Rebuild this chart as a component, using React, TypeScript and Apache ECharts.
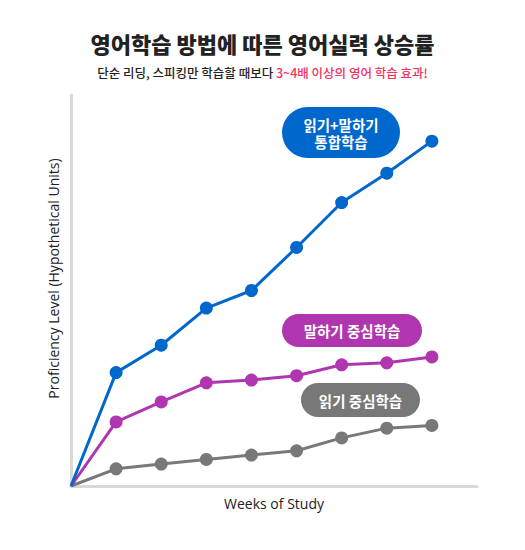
import React, { useEffect, useRef } from "react";
import * as echarts from "echarts";

const weeks = [0, 1, 2, 3, 4, 5, 6, 7, 8];
const integrated = [0, 29, 36, 45.5, 50, 61, 72.5, 80, 88.2];
const speaking = [0, 16.4, 21.5, 26.4, 27.1, 28.2, 31, 31.5, 33];
const reading = [0, 4.4, 5.6, 6.8, 7.9, 9, 12.3, 14.8, 15.5];

const titleText = "영어학습 방법에 따른 영어실력 상승률";
const subPlain = "단순 리딩, 스피킹만 학습할 때보다 ";
const subAccent = "3~4배 이상의 영어 학습 효과!";
const xName = "Weeks of Study";
const yName = "Proficiency Level (Hypothetical Units)";
const labelIntegratedTop = "읽기+말하기";
const labelIntegratedBottom = "통합학습";
const labelSpeaking = "말하기 중심학습";
const labelReading = "읽기 중심학습";

const BLUE = "#0068cc";
const PURPLE = "#b036b0";
const GRAY = "#787878";
const KR = "'Noto Sans CJK KR', 'Noto Sans', sans-serif";

function pts(vals: number[]) {
  return weeks.map((w, i) => [w, vals[i]]);
}

function badge(x: number, y: number, w: number, h: number, color: string, lines: string[], fs: number) {
  const lh = 17;
  const startY = y + h / 2 - ((lines.length - 1) * lh) / 2;
  return {
    type: "group",
    z: 100,
    children: [
      { type: "rect", shape: { x, y, width: w, height: h, r: h / 2 }, style: { fill: color } },
      ...lines.map((t, i) => ({
        type: "text",
        x: x + w / 2,
        y: startY + i * lh,
        style: {
          text: t,
          fill: "#fff",
          font: `bold ${fs}px ${KR}`,
          align: "center",
          verticalAlign: "middle",
        },
      })),
    ],
  };
}

export default function App() {
  const ref = useRef<HTMLDivElement>(null);
  useEffect(() => {
    if (!ref.current) return;
    const chart = echarts.init(ref.current, undefined, { renderer: "svg" });
    const line = (name: string, vals: number[], color: string) => ({
      name,
      type: "line",
      data: pts(vals),
      symbol: "circle",
      symbolSize: (_v: any, p: any) => (p.dataIndex === 0 ? 0 : 13),
      lineStyle: { color, width: 3 },
      itemStyle: { color },
    });
    chart.setOption({
      animation: false,
      backgroundColor: "#fff",
      title: [
        {
          text: titleText,
          left: "center",
          top: 27,
          textStyle: { fontFamily: KR, fontSize: 22, fontWeight: 900, color: "#222" },
        },
        {
          text: `{a|${subPlain}}{b|${subAccent}}`,
          left: "center",
          top: 61,
          textStyle: {
            rich: {
              a: { fontFamily: KR, fontSize: 12.5, color: "#222", fontWeight: 500 },
              b: { fontFamily: KR, fontSize: 12.5, color: "#f0335e", fontWeight: 500 },
            },
          },
        },
      ],
      grid: { left: 71, right: 48, top: 95, bottom: 64 },
      xAxis: {
        type: "value",
        min: 0,
        max: 9,
        name: xName,
        nameLocation: "middle",
        nameGap: 10,
        nameTextStyle: { fontFamily: "'Open Sans', sans-serif", fontSize: 14, color: "#222" },
        axisLine: { show: true, lineStyle: { color: "#d9d9d9", width: 3 } },
        axisTick: { show: false },
        axisLabel: { show: false },
        splitLine: { show: false },
      },
      yAxis: {
        type: "value",
        min: 0,
        max: 100,
        name: yName,
        nameLocation: "middle",
        nameGap: 11,
        nameTextStyle: { fontFamily: "'Open Sans', sans-serif", fontSize: 14, color: "#222", padding: [0, 0, 0, 24] },
        axisLine: { show: true, lineStyle: { color: "#d9d9d9", width: 3 } },
        axisTick: { show: false },
        axisLabel: { show: false },
        splitLine: { show: false },
      },
      series: [
        line("읽기 중심학습", reading, GRAY),
        line("말하기 중심학습", speaking, PURPLE),
        line("읽기+말하기 통합학습", integrated, BLUE),
      ],
      graphic: [
        badge(282, 107, 118, 51, BLUE, [labelIntegratedTop, labelIntegratedBottom], 14.5),
        badge(282, 314, 140, 33, PURPLE, [labelSpeaking], 14.5),
        badge(301, 383, 119, 34, GRAY, [labelReading], 14.5),
      ],
    });
    return () => chart.dispose();
  }, []);
  return (
    <div
      ref={ref}
      style={{ position: "fixed", left: 0, top: 0, width: 525, height: 550 }}
    />
  );
}
